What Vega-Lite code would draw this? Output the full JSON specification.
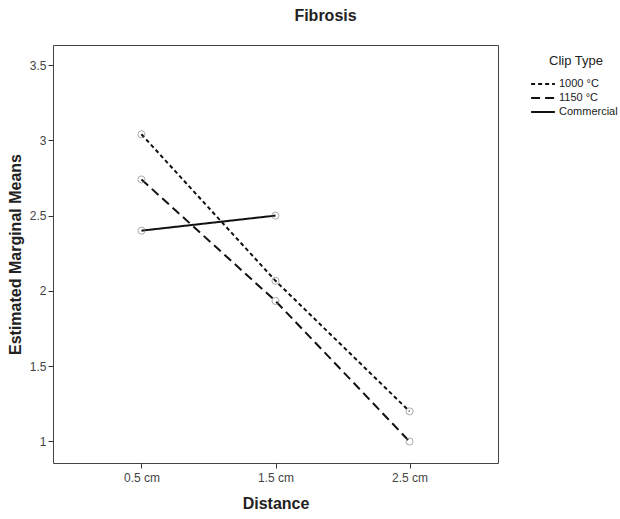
{
  "$schema": "https://vega.github.io/schema/vega-lite/v6.json",
  "autosize": "none",
  "padding": {"left": 53, "top": 45, "right": 122, "bottom": 56},
  "width": 445,
  "height": 418,
  "background": "white",
  "title": {"text": "Fibrosis", "font": "Liberation Sans", "fontSize": 16, "fontWeight": "bold", "color": "#222", "anchor": "middle", "dx": 50, "offset": 21},
  "config": {
    "view": {"stroke": "#444", "strokeWidth": 1},
    "axis": {"grid": false, "labelFont": "Liberation Sans", "labelFontSize": 12, "labelColor": "#444", "titleFont": "Liberation Sans", "titleFontSize": 16, "titleFontWeight": "bold", "titleColor": "#222", "tickColor": "#333", "tickSize": 5, "domain": false}
  },
  "data": {"values": [
    {"distance": "0.5 cm", "clip": "1000 °C", "mean": 3.04},
    {"distance": "1.5 cm", "clip": "1000 °C", "mean": 2.067},
    {"distance": "2.5 cm", "clip": "1000 °C", "mean": 1.2},
    {"distance": "0.5 cm", "clip": "1150 °C", "mean": 2.74},
    {"distance": "1.5 cm", "clip": "1150 °C", "mean": 1.933},
    {"distance": "2.5 cm", "clip": "1150 °C", "mean": 1.0},
    {"distance": "0.5 cm", "clip": "Commercial", "mean": 2.4},
    {"distance": "1.5 cm", "clip": "Commercial", "mean": 2.5}
  ]},
  "encoding": {
    "x": {"field": "distance", "type": "ordinal", "scale": {"type": "point", "padding": 0.66}, "axis": {"title": "Distance", "labelAngle": 0, "labelPadding": 4, "titlePadding": 12}},
    "y": {"field": "mean", "type": "quantitative", "scale": {"domain": [0.857, 3.633], "nice": false, "zero": false}, "axis": {"title": "Estimated Marginal Means", "values": [1, 1.5, 2, 2.5, 3, 3.5], "format": "~g", "labelPadding": 2, "titlePadding": 6}}
  },
  "layer": [
    {
      "mark": {"type": "line", "color": "#111", "strokeWidth": 2},
      "encoding": {
        "detail": {"field": "clip"},
        "strokeDash": {"field": "clip", "type": "nominal", "scale": {"domain": ["1000 °C", "1150 °C", "Commercial"], "range": [[4, 3], [9, 5], [1, 0]]},
          "legend": {"title": "Clip Type", "orient": "none", "legendX": 482, "legendY": 10, "titleFont": "Liberation Sans", "titleFontSize": 13, "titleFontWeight": "normal", "titleColor": "#222", "titleAnchor": "middle", "titlePadding": 8, "labelFont": "Liberation Sans", "labelFontSize": 11, "labelColor": "#222", "symbolType": "M-1.7,0H1.7", "symbolStrokeColor": "#111", "symbolStrokeWidth": 2, "symbolSize": 196, "rowPadding": 1, "labelOffset": 8, "labelLimit": 200}}
      }
    },
    {
      "mark": {"type": "point", "shape": "circle", "filled": false, "color": "#888", "size": 50, "strokeWidth": 1}
    }
  ]
}
